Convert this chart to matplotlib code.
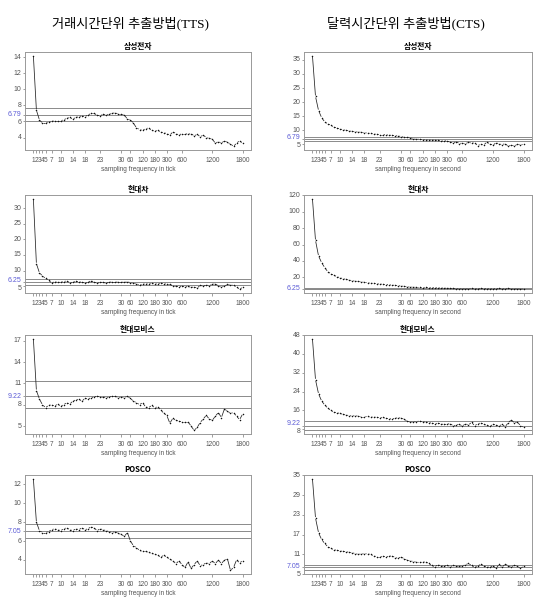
import matplotlib
matplotlib.use("Agg")
import matplotlib.pyplot as plt
import matplotlib.transforms as mtransforms
import numpy as np
from matplotlib.collections import LineCollection

# ---------------- data ----------------
freq = list(range(1, 31)) + [40, 50, 60] + list(range(75, 181, 15)) + \
       list(range(210, 301, 30)) + list(range(360, 1801, 60))
tick_freqs = [1, 2, 3, 4, 5, 7, 10, 14, 18, 23, 30, 60, 120, 180, 300, 600, 1200, 1800]

col_titles = ["거래시간단위 추출방법(TTS)", "달력시간단위 추출방법(CTS)"]
stocks = ["삼성전자", "현대차", "현대모비스", "POSCO"]
xlabels = ["sampling frequency in tick", "sampling frequency in second"]

sam_tts = [14.2, 7.4, 6.2, 5.8, 5.8, 5.9, 6.0, 6.1, 6.1, 6.1,
           6.2, 6.4, 6.5, 6.3, 6.5, 6.6, 6.7, 6.6, 6.8, 7.0,
           7.0, 6.8, 6.7, 6.9, 6.8, 6.9, 7.0, 7.1, 6.9, 6.9,
           6.8, 6.3, 6.2, 5.8, 5.2, 5.0, 4.9, 5.1, 5.2, 4.9,
           4.8, 4.9, 4.7, 4.6, 4.5, 4.3, 4.7, 4.5, 4.3, 4.5,
           4.5, 4.4, 4.5, 4.2, 4.4, 4.1, 4.3, 4.0, 3.9, 3.8,
           3.3, 3.5, 3.3, 3.6, 3.4, 3.2, 2.9, 3.3, 3.6, 3.3]
sam_cts = [36.5, 22.0, 17.0, 14.5, 13.0, 12.3, 11.8, 11.2, 10.8, 10.5,
           10.2, 10.0, 9.8, 9.6, 9.5, 9.4, 9.3, 9.2, 9.0, 8.9,
           8.7, 8.6, 8.5, 8.5, 8.4, 8.3, 8.2, 8.1, 8.0, 7.8,
           7.6, 7.6, 7.4, 7.0, 6.8, 6.9, 6.6, 6.7, 6.4, 6.6,
           6.4, 6.5, 6.1, 6.3, 6.2, 5.8, 5.5, 6.0, 5.3, 5.5,
           5.2, 5.8, 5.4, 5.6, 4.6, 5.0, 4.8, 5.8, 5.2, 4.7,
           5.6, 5.2, 4.9, 5.3, 4.3, 4.8, 4.4, 5.1, 4.8, 5.0]
hyu_tts = [33.0, 12.2, 9.3, 8.3, 7.5, 7.0, 6.0, 6.5, 6.2, 6.3,
           6.5, 6.7, 6.1, 6.2, 6.6, 6.4, 6.3, 6.0, 6.2, 6.8,
           6.3, 6.0, 6.2, 6.3, 5.9, 6.4, 6.3, 6.3, 6.4, 6.4,
           6.2, 6.5, 6.1, 6.0, 5.8, 5.4, 5.6, 5.8, 5.7, 5.9,
           5.7, 5.8, 5.9, 5.8, 5.7, 5.7, 5.0, 5.0, 4.8, 5.1,
           4.7, 5.0, 4.6, 4.8, 4.4, 5.3, 5.0, 5.4, 5.2, 5.6,
           5.8, 5.1, 4.8, 5.0, 5.6, 5.4, 5.3, 4.8, 4.0, 4.7]
hyu_cts = [116, 65, 46, 38, 32, 27, 24.5, 22.5, 21, 19.5,
           18.5, 17.5, 16.8, 16, 15.5, 15, 14.5, 14, 13.5, 13,
           12.7, 12.3, 12, 11.6, 11.3, 11, 10.6, 10.3, 10, 9.6,
           9.0, 8.6, 8.3, 8.1, 7.9, 7.8, 7.6, 8.0, 7.5, 7.3,
           7.6, 7.0, 7.2, 6.8, 6.9, 6.5, 6.7, 6.2, 6.4, 6.0,
           6.3, 6.1, 6.5, 5.9, 6.3, 6.6, 6.0, 6.4, 5.7, 6.2,
           6.0, 6.5, 5.8, 6.3, 6.9, 6.1, 5.7, 6.3, 5.5, 6.0]
mob_tts = [17.3, 10.0, 8.8, 8.0, 7.6, 7.9, 8.0, 7.8, 8.1, 7.8,
           8.0, 8.3, 8.1, 8.5, 8.7, 8.8, 8.5, 8.9, 8.8, 9.0,
           9.1, 9.2, 9.1, 9.1, 9.0, 9.1, 9.2, 9.2, 9.0, 9.1,
           9.0, 9.2, 8.9, 8.5, 8.3, 8.0, 8.3, 7.7, 7.6, 7.9,
           7.6, 7.7, 7.3, 6.8, 6.5, 5.4, 6.1, 5.8, 5.7, 5.6,
           5.6, 5.6, 5.0, 4.4, 4.8, 5.5, 6.0, 6.5, 6.0, 5.8,
           6.4, 6.9, 6.2, 7.4, 7.1, 6.8, 6.9, 6.4, 5.9, 6.7]
mob_cts = [46.5, 29.0, 23.0, 20.0, 18.3, 17.0, 16.0, 15.3, 15.0, 14.7,
           14.3, 14.0, 13.8, 13.6, 13.8, 13.5, 13.3, 13.3, 13.4, 13.1,
           13.2, 13.0, 12.9, 13.0, 12.6, 12.5, 12.3, 12.6, 12.9, 12.7,
           12.2, 11.4, 11.0, 11.1, 11.2, 11.5, 11.1, 11.0, 10.8, 10.6,
           10.3, 10.6, 10.2, 10.0, 10.1, 10.4, 9.4, 9.8, 10.1, 9.3,
           10.3, 9.8, 10.9, 9.5, 10.2, 10.7, 10.1, 9.6, 9.2, 10.0,
           9.8, 9.4, 10.0, 9.1, 10.7, 12.0, 10.6, 11.0, 9.5, 8.8]
pos_tts = [12.6, 8.0, 7.1, 6.9, 6.9, 7.0, 7.2, 7.3, 7.2, 7.1,
           7.3, 7.4, 7.2, 7.1, 7.3, 7.2, 7.4, 7.2, 7.3, 7.5,
           7.4, 7.1, 7.3, 7.2, 7.1, 7.0, 6.9, 7.0, 6.8, 6.7,
           6.5, 6.9, 6.0, 5.5, 5.3, 5.0, 4.9, 4.9, 4.8, 4.7,
           4.6, 4.5, 4.3, 4.5, 4.3, 4.1, 3.9, 3.6, 3.9, 3.5,
           3.2, 3.8, 3.1, 3.5, 3.9, 3.4, 3.5, 3.7, 3.6, 3.9,
           3.6, 4.0, 3.6, 4.0, 4.1, 2.9, 3.2, 4.0, 3.7, 3.9]
pos_cts = [34.0, 22.0, 17.5, 15.5, 14.3, 13.3, 12.8, 12.4, 12.2, 12.0,
           11.9, 11.8, 11.6, 11.5, 11.2, 11.0, 11.1, 11.2, 11.1, 11.0,
           10.5, 10.3, 10.3, 10.4, 10.3, 10.4, 10.5, 10.0, 9.8, 10.2,
           9.6, 9.2, 9.0, 8.8, 8.6, 8.5, 8.6, 8.7, 8.2, 7.6,
           7.2, 7.8, 7.5, 7.3, 7.7, 7.2, 7.6, 7.4, 7.3, 7.5,
           7.8, 8.2, 7.6, 7.0, 7.4, 8.0, 7.5, 7.2, 7.0, 7.5,
           6.7, 7.9, 7.1, 8.0, 7.5, 7.1, 7.7, 7.3, 6.8, 7.3]

series = [[sam_tts, sam_cts], [hyu_tts, hyu_cts], [mob_tts, mob_cts], [pos_tts, pos_cts]]

# band lines (lower, benchmark, upper)
bands = [(6.1, 6.79, 7.7), (5.4, 6.25, 7.4), (7.5, 9.22, 11.4), (6.35, 7.05, 7.85)]
band_labels = ["6.79", "6.25", "9.22", "7.05"]

yticks = [
    [[4, 6, 8, 10, 12, 14], [5, 10, 15, 20, 25, 30, 35]],
    [[5, 10, 15, 20, 25, 30], [20, 40, 60, 80, 100, 120]],
    [[5, 8, 11, 14, 17], [8, 16, 24, 32, 40, 48]],
    [[4, 6, 8, 10, 12], [5, 11, 17, 23, 29, 35]],
]

# ---------------- figure ----------------
W, H = 543, 599
DPI = 100
fig = plt.figure(figsize=(W / DPI, H / DPI), dpi=DPI)

col_x = [(25, 251), (304, 532)]
row_y = [(52, 150), (195, 293), (335, 434), (475, 574)]

GRAY = "#777777"
TXT = "#555555"
BLUE = "#5b5bd6"
tick_font = "Liberation Sans"
YFS = 5.0
MIN_SEP = 7.8  # px between y tick label centres

x = np.arange(1, len(freq) + 1)
tick_pos = [x[freq.index(f)] for f in tick_freqs]

for r in range(4):
    for c in range(2):
        x0, x1 = col_x[c]
        yt, yb = row_y[r]
        ax = fig.add_axes([x0 / W, 1 - yb / H, (x1 - x0) / W, (yb - yt) / H])
        y = np.array(series[r][c], dtype=float)
        lo, mid, hi = bands[r]

        pad_x = (x[-1] - x[0]) * 0.04
        ax.set_xlim(x[0] - pad_x, x[-1] + pad_x)
        ymin, ymax = min(y.min(), lo), max(y.max(), hi)
        pad_y = (ymax - ymin) * 0.04
        ax.set_ylim(ymin - pad_y, ymax + pad_y)

        for v in (lo, mid, hi):
            ax.axhline(v, color="#8a8a8a", lw=0.7, zorder=1)

        # R-style type="b": segments with small gaps around points
        pts = ax.transData.transform(np.column_stack([x, y]))
        gap = 1.0
        segs = []
        inv = ax.transData.inverted()
        for i in range(len(pts) - 1):
            p, q = pts[i], pts[i + 1]
            d = q - p
            L = np.hypot(*d)
            if L > 2 * gap + 0.3:
                u = d / L
                segs.append([inv.transform(p + u * gap), inv.transform(q - u * gap)])
        ax.add_collection(LineCollection(segs, colors="#222222", linewidths=0.55, zorder=3))
        ax.plot(x, y, linestyle="none", marker="o", ms=1.1, mew=0,
                color="#111111", zorder=4)

        ax.set_xticks(tick_pos)
        ax.set_xticklabels([str(f) for f in tick_freqs], fontsize=4.7,
                           family=tick_font, color=TXT)

        # y ticks: marks from the axis, labels drawn as texts so they can be nudged
        ax.set_yticks(yticks[r][c] + [mid])
        ax.tick_params(axis="y", labelleft=False)
        ax.tick_params(axis="both", length=1.8, width=0.5, color=GRAY)
        ax.tick_params(axis="x", pad=3)

        mid_px = ax.transData.transform((0, mid))[1]
        offs = {t: 0.0 for t in yticks[r][c]}
        mid_off = 0.0
        for t in yticks[r][c]:
            t_px = ax.transData.transform((0, t))[1]
            dist = abs(mid_px - t_px)
            if dist < MIN_SEP:
                sh = (MIN_SEP - dist) / 2.0
                sgn = 1 if mid_px >= t_px else -1
                mid_off += sgn * sh
                offs[t] = -sgn * sh
        ytrans = ax.get_yaxis_transform()
        for t in yticks[r][c]:
            tr = ytrans + mtransforms.ScaledTranslation(-3.5 / DPI, offs[t] / DPI, fig.dpi_scale_trans)
            ax.text(0, t, str(t), transform=tr, ha="right", va="center",
                    fontsize=YFS, family=tick_font, color=TXT, clip_on=False)
        tr = ytrans + mtransforms.ScaledTranslation(-3.5 / DPI, mid_off / DPI, fig.dpi_scale_trans)
        ax.text(0, mid, band_labels[r], transform=tr, ha="right", va="center",
                fontsize=YFS, family=tick_font, color=BLUE, clip_on=False)

        for s in ax.spines.values():
            s.set_color("#999999")
            s.set_linewidth(0.7)

        ax.set_title(stocks[r], fontsize=5.6, fontweight="bold",
                     family=["Noto Sans CJK KR", "DejaVu Sans"], pad=2)
        ax.set_xlabel(xlabels[c], fontsize=4.7, family=tick_font, color=TXT, labelpad=1.5)

# column titles
for c, cx in enumerate([130, 406]):
    fig.text(cx / W, 1 - 23 / H, col_titles[c], ha="center", va="center",
             fontsize=9.5, family=["Liberation Serif", "Noto Sans CJK KR"])

fig.savefig("out.png", dpi=DPI, facecolor="white")
